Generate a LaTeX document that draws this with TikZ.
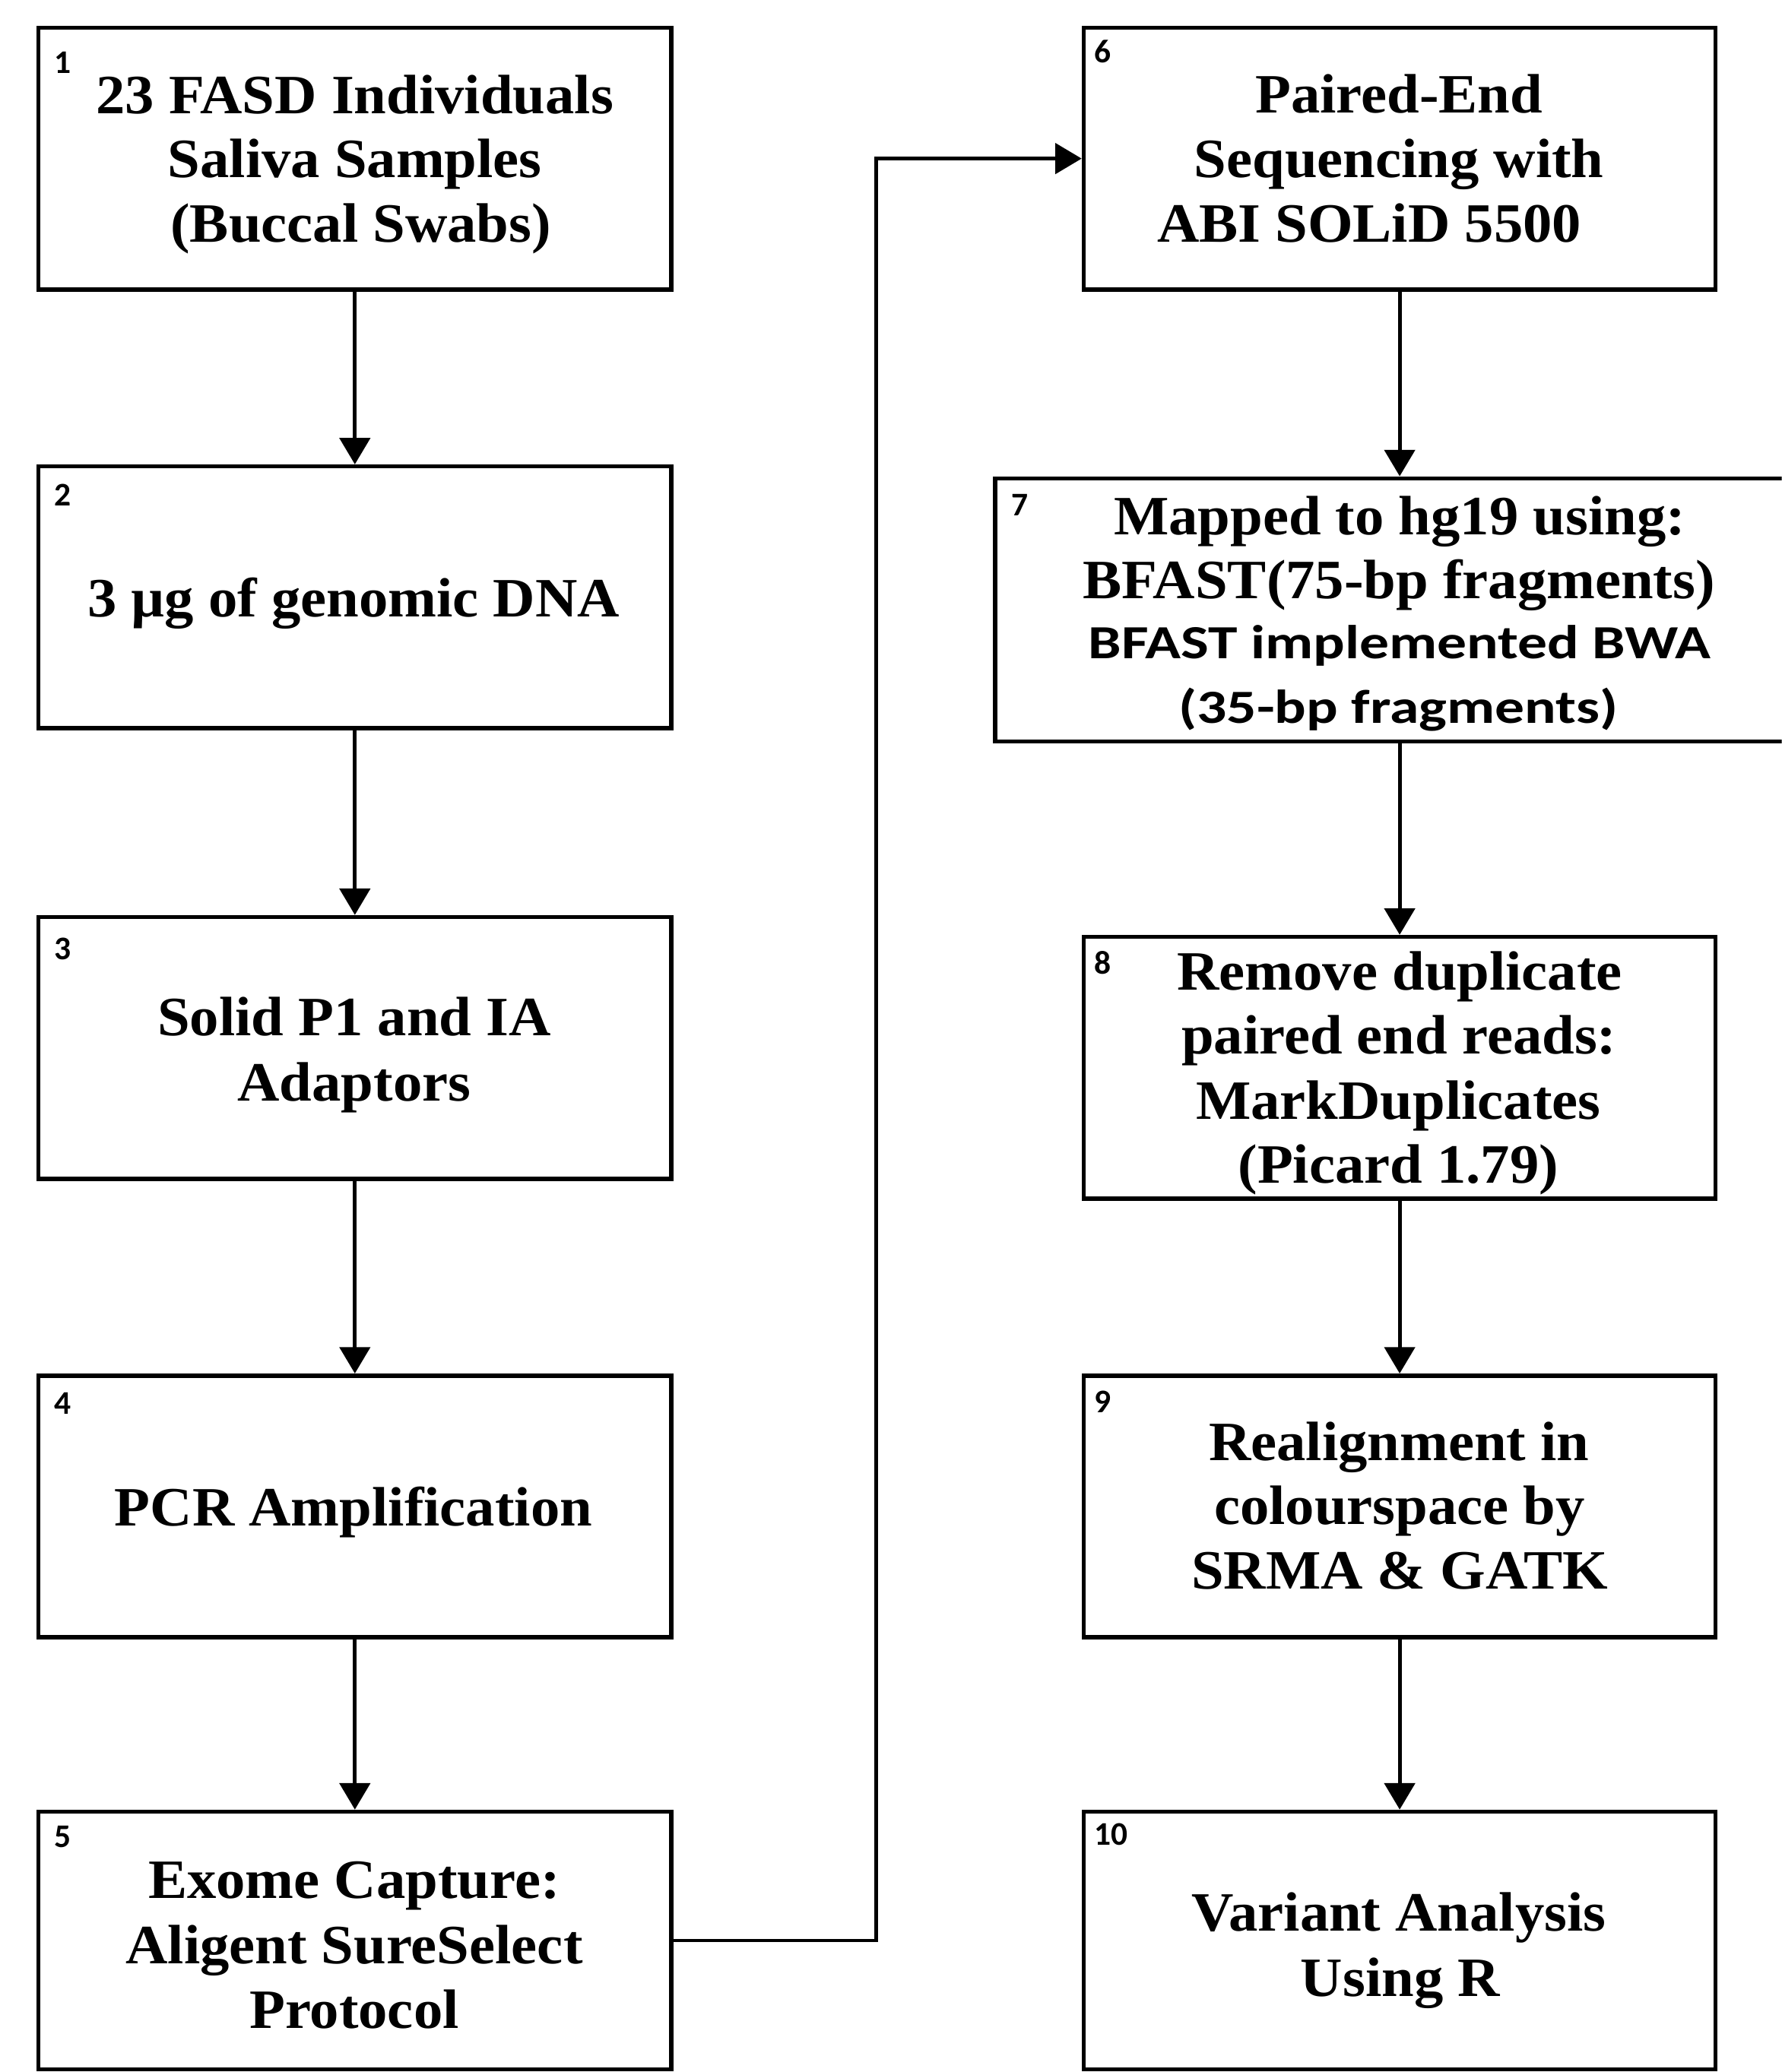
\documentclass[tikz,border=0pt]{standalone}
\usepackage{fontspec}
\setmainfont{Liberation Serif}[FakeStretch=1.05]
\newfontfamily\calfont{Carlito}[FakeStretch=1.24]
\newfontfamily\numfont{Carlito}
\usetikzlibrary{arrows.meta}
\begin{document}
\begin{tikzpicture}[x=1pt,y=-1pt,
  box/.style={draw, line width=3.2pt, minimum width=479pt, minimum height=198pt, inner sep=0pt},
  txt/.style={anchor=base, inner sep=0pt, font=\fontsize{42}{49}\selectfont\bfseries},
  caltxt/.style={anchor=base, inner sep=0pt, font=\calfont\fontsize{36}{49}\selectfont\bfseries},
  num/.style={anchor=base west, inner sep=0pt, font=\numfont\fontsize{25}{28}\selectfont\bfseries},
  arr/.style={line width=2.8pt, -{Triangle[length=20pt,width=23pt]}}]
\useasboundingbox (0,0) rectangle (1348,1568);
\fill[white] (0,0) rectangle (1348,1568);
\clip (0,0) rectangle (1348,1568);

% ---------- boxes ----------
\node[box] (b1) at (268.5,120) {};
\node[box] (b2) at (268.5,452) {};
\node[box] (b3) at (268.5,793) {};
\node[box] (b4) at (268.5,1140) {};
\node[box, minimum height=195pt] (b5) at (268.5,1468.5) {};
\node[box, minimum width=478pt] (b6) at (1059,120) {};
\node[box, minimum width=612pt, minimum height=199pt] (b7) at (1059,461.5) {};
\node[box, minimum width=478pt] (b8) at (1059,808) {};
\node[box, minimum width=478pt] (b9) at (1059,1140) {};
\node[box, minimum width=478pt, minimum height=195pt] (b10) at (1059,1468.5) {};

% ---------- texts ----------
\node[txt] (t1a) at (268.5,86) {23 FASD Individuals};
\node[txt] (t1b) at (268.5,134.5) {Saliva Samples};
\node[txt] (t1c) at (273,183) {(Buccal Swabs)};
\node[txt] (t2a) at (267.5,466.5) {3 µg of genomic DNA};
\node[txt] (t3a) at (268,783.5) {Solid P1 and IA};
\node[txt] (t3b) at (268,833) {Adaptors};
\node[txt] (t4a) at (267.5,1154.5) {PCR Amplification};
\node[txt] (t5a) at (268,1436.5) {Exome Capture:};
\node[txt] (t5b) at (268,1486) {Aligent SureSelect};
\node[txt] (t5c) at (268,1535) {Protocol};

\node[txt] (t6a) at (1058.5,85.5) {Paired-End};
\node[txt] (t6b) at (1058.5,134.5) {Sequencing with};
\node[txt] (t6c) at (1036,183) {ABI SOLiD 5500};
\node[txt] (t7a) at (1059,404.5) {Mapped to hg19 using:};
\node[txt] (t7b) at (1058.5,453) {BFAST(75-bp fragments)};
\node[caltxt] (t7c) at (1059,498.5) {BFAST implemented BWA};
\node[caltxt] (t7d) at (1058,547.5) {(35-bp fragments)};
\node[txt] (t8a) at (1059,749) {Remove duplicate};
\node[txt] (t8b) at (1058.5,797.5) {paired end reads:};
\node[txt] (t8c) at (1058,847) {MarkDuplicates};
\node[txt] (t8d) at (1058,895.5) {(Picard 1.79)};
\node[txt] (t9a) at (1058.5,1105.5) {Realignment in};
\node[txt] (t9b) at (1059,1153.5) {colourspace by};
\node[txt] (t9c) at (1059,1202.5) {SRMA \& GATK};
\node[txt] (t10a) at (1058.5,1461.5) {Variant Analysis};
\node[txt] (t10b) at (1059.5,1511) {Using R};

% ---------- step numbers ----------
\node[num] (n1) at (41,55.5) {1};
\node[num] (n2) at (41,383) {2};
\node[num] (n3) at (41,726) {3};
\node[num] (n4) at (41,1070) {4};
\node[num] (n5) at (41,1398) {5};
\node[num] (n6) at (828,47.5) {6};
\node[num] (n7) at (765,390) {7};
\node[num] (n8) at (828,737) {8};
\node[num] (n9) at (828,1069) {9};
\node[num] (n10) at (828,1396.5) {10};

% ---------- connectors ----------
\draw[arr] (b1) -- (b2);
\draw[arr] (b2) -- (b3);
\draw[arr] (b3) -- (b4);
\draw[arr] (b4) -- (b5);
\coordinate (elb) at (663,1470);
\draw[arr] (b5.east) -- (b5.east -| elb) |- (b6.west);
\draw[arr] (b6) -- (b7);
\draw[arr] (b7) -- (b8);
\draw[arr] (b8) -- (b9);
\draw[arr] (b9) -- (b10);
\end{tikzpicture}
\end{document}
